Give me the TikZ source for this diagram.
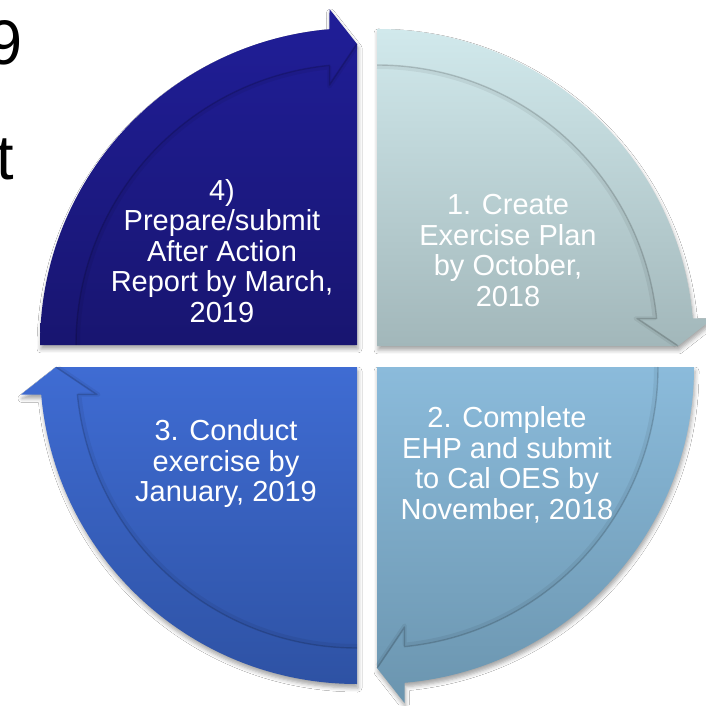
\documentclass[tikz,border=0pt]{standalone}
\usepackage{fontspec}
\setmainfont{Liberation Sans}
\usetikzlibrary{shadows.blur}

% quadrant colours (top / bottom of each gradient)
\definecolor{qonetop}{RGB}{209,233,236}
\definecolor{qonebot}{RGB}{162,183,186}
\definecolor{qtwotop}{RGB}{139,187,219}
\definecolor{qtwobot}{RGB}{107,149,175}
\definecolor{qthreetop}{RGB}{63,108,211}
\definecolor{qthreebot}{RGB}{46,82,164}
\definecolor{qfourtop}{RGB}{32,30,152}
\definecolor{qfourbot}{RGB}{24,21,112}

\tikzset{
  quadfill/.style={blur shadow={shadow xshift=1pt, shadow yshift=-4pt,
      shadow blur radius=4pt, shadow opacity=35}},
  bandedge/.style={draw=black, draw opacity=0.16, line width=1.4pt, line join=round},
  bandsoft/.style={draw=black, draw opacity=0.06, line width=4pt, line join=round},
  steptext/.style={text=white, align=center, inner sep=0pt,
      font=\fontsize{29}{30.5}\selectfont},
  titlefrag/.style={text=black, inner sep=0pt, outer sep=0pt,
      font=\fontsize{63}{70}\selectfont},
}

% One quarter of the cycle: quarter disc of radius 317 around centre #1,
% with a curved arrow band (317 -> 281) running clockwise from angle #2
% to angle #2-90 and ending in an arrowhead.
\newcommand\cyclequad[4]{%
  \path[quadfill, top color=#3, bottom color=#4, shift={(#1)}]
    (0,0) -- (#2:317)
    arc[start angle=#2, end angle=#2-85.02, radius=317]
    -- ({#2-90+4.68}:337.1) -- ({#2-90}:301) -- cycle;
  \draw[bandsoft, shift={(#1)}]
    (#2:279) arc[start angle=#2, end angle=#2-84.3, radius=279]
    -- ({#2-90+6.1}:260) -- ({#2-90}:299);
  \draw[bandedge, shift={(#1)}]
    (#2:281) arc[start angle=#2, end angle=#2-84.38, radius=281]
    -- ({#2-90+6.04}:261.5) -- ({#2-90}:301);
}

\begin{document}
\begin{tikzpicture}[x=1pt, y=1pt]
  \useasboundingbox (0,0) rectangle (706,705);
  \fill[white] (0,0) rectangle (706,705);
  \clip (0,0) rectangle (706,705);

  % fragments of the slide title running in from the left
  \node[titlefrag, anchor=base west] (ttlnine) at (-12.3,640) {9};
  \node[titlefrag, anchor=base west] (ttlt) at (-3.6,525) {t};

  % centres of the four quarters
  \coordinate (cone)   at (377,359);
  \coordinate (ctwo)   at (377,338);
  \coordinate (cthree) at (357,338);
  \coordinate (cfour)  at (357,360);

  \cyclequad{cone}{90}{qonetop}{qonebot}
  \cyclequad{ctwo}{0}{qtwotop}{qtwobot}
  \cyclequad{cthree}{-90}{qthreetop}{qthreebot}
  \cyclequad{cfour}{180}{qfourtop}{qfourbot}

  \node[steptext] (stepone) at (508,454.5)
    {1. Create\\Exercise Plan\\by October,\\2018};
  \node[steptext] (steptwo) at (507,240)
    {2. Complete\\EHP and submit\\to Cal OES by\\November, 2018};
  \node[steptext] (stepthree) at (226,241.5)
    {3. Conduct\\exercise by\\January, 2019};
  \node[steptext] (stepfour) at (222,454)
    {4)\\Prepare/submit\\After Action\\Report by March,\\2019};
\end{tikzpicture}
\end{document}
